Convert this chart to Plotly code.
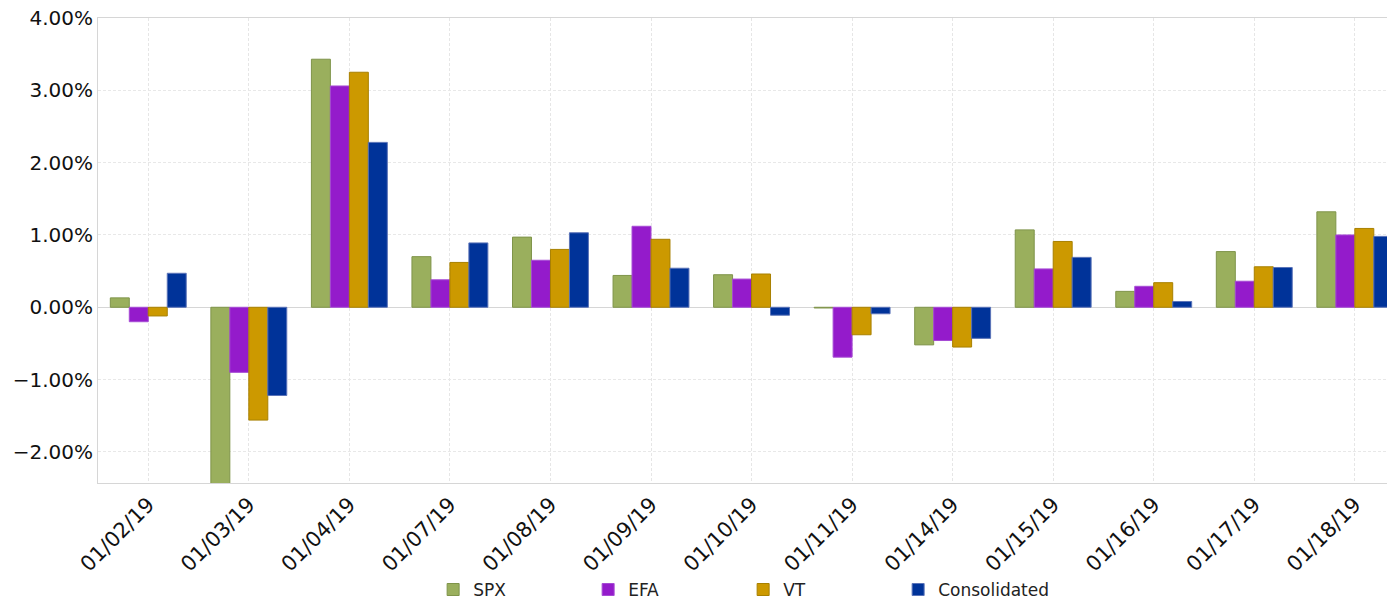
import plotly.graph_objects as go

dates = ["01/02/19", "01/03/19", "01/04/19", "01/07/19", "01/08/19", "01/09/19", "01/10/19",
         "01/11/19", "01/14/19", "01/15/19", "01/16/19", "01/17/19", "01/18/19"]

# daily returns, in percent
spx = [0.13, -2.60, 3.43, 0.70, 0.97, 0.44, 0.45, -0.01, -0.52, 1.07, 0.22, 0.77, 1.32]
efa = [-0.20, -0.90, 3.06, 0.38, 0.65, 1.12, 0.39, -0.69, -0.46, 0.53, 0.29, 0.36, 1.00]
vt = [-0.12, -1.56, 3.25, 0.62, 0.80, 0.94, 0.46, -0.38, -0.55, 0.91, 0.34, 0.56, 1.09]
consolidated = [0.47, -1.22, 2.28, 0.89, 1.03, 0.54, -0.11, -0.09, -0.43, 0.69, 0.08, 0.55, 0.98]

series = [
    ("SPX", spx, "#9aaf5d", "#7f944a"),
    ("EFA", efa, "#941bcb", "#a64bd4"),
    ("VT", vt, "#cc9900", "#a88000"),
    ("Consolidated", consolidated, "#003399", "#5a73b8"),
]

x = list(range(len(dates)))

fig = go.Figure()
for name, vals, color, edge in series:
    fig.add_trace(go.Bar(
        x=x, y=vals, name=name,
        marker=dict(color=color, line=dict(color=edge, width=1)),
    ))

fig.update_layout(
    width=1387, height=602,
    margin=dict(l=98, r=0, t=18, b=119, autoexpand=False),
    paper_bgcolor="white", plot_bgcolor="white",
    barmode="group", bargap=0.245, bargroupgap=0,
    font=dict(family="DejaVu Sans", size=20, color="#111111"),
    showlegend=True,
    legend=dict(
        orientation="h", x=0.26, y=-0.23, xanchor="left", yanchor="middle",
        font=dict(family="DejaVu Sans", size=17, color="#222222"),
        entrywidth=110, entrywidthmode="pixels",
        bgcolor="rgba(0,0,0,0)", traceorder="normal",
    ),
)

fig.update_xaxes(
    tickvals=x, ticktext=dates, tickangle=-45,
    range=[-0.5, 12.32], automargin=False, ticklabeloverflow="allow",
    showgrid=True, gridcolor="#e6e6e6", griddash="3px,2px", gridwidth=1,
    showline=True, linecolor="#d6d6d6", linewidth=1, mirror=True,
    ticks="", zeroline=False,
    tickfont=dict(size=21),
)
fig.update_yaxes(
    range=[-2.43, 4.0], dtick=1, tick0=0, automargin=False, ticklabeloverflow="allow",
    tickformat=".2f", ticksuffix="%",
    showgrid=True, gridcolor="#e8e8e8", griddash="3px,2px", gridwidth=1,
    zeroline=True, zerolinecolor="#d6d6d6", zerolinewidth=1,
    showline=True, linecolor="#d6d6d6", linewidth=1,
    ticks="", tickfont=dict(size=20),
)

# drop the default 8px page margin so the figure sits at the window corner
fig.write_html("out.html", config={"displayModeBar": False},
               post_script="document.body.style.margin='0';")
